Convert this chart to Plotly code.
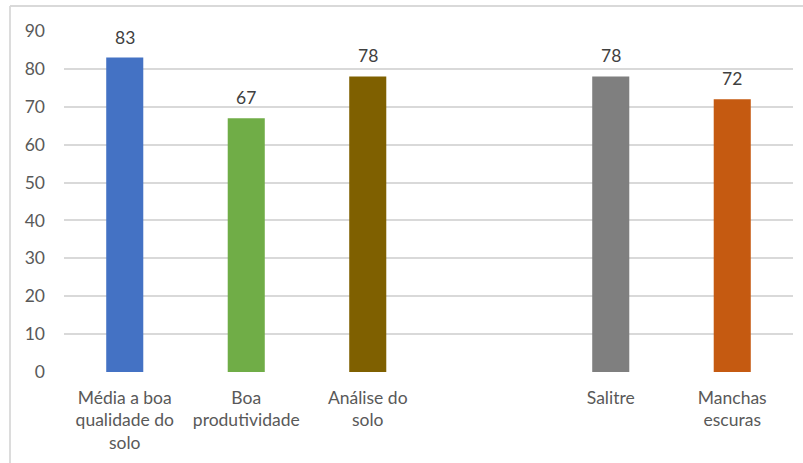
import plotly.graph_objects as go

categories = ["Média a boa<br>qualidade do<br>solo", "Boa<br>produtividade", "Análise do<br>solo", "", "Salitre", "Manchas<br>escuras"]
values = [83, 67, 78, None, 78, 72]
colors = ["#4472C4", "#70AD47", "#7F6000", "#FFFFFF", "#7F7F7F", "#C55A11"]
y_ticks = [0, 10, 20, 30, 40, 50, 60, 70, 80, 90]

xs = list(range(len(categories)))
FONT = "Lato, Liberation Sans, sans-serif"
FS = 17.5

fig = go.Figure()
fig.add_trace(go.Bar(x=xs, y=values, marker=dict(color=colors, line=dict(width=0)),
                     width=0.305, hoverinfo="skip"))

for x, v in zip(xs, values):
    if v is None:
        continue
    fig.add_annotation(x=x, y=v, text=str(v), showarrow=False, yanchor="bottom",
                       yshift=8, font=dict(family=FONT, size=FS, color="#404040"))

# outer chart border (top and left)
L, R, T, B = 64, 10, 31, 91
pw, ph = 803 - L - R, 463 - T - B
fig.add_shape(type="line", xref="paper", yref="paper",
              x0=(10 - L) / pw, x1=(803 - L) / pw, y0=(ph + T - 6) / ph, y1=(ph + T - 6) / ph,
              line=dict(color="#D9D9D9", width=1.8))
fig.add_shape(type="line", xref="paper", yref="paper",
              x0=(10 - L) / pw, x1=(10 - L) / pw, y0=(ph + T - 6) / ph, y1=-(463 - T - ph) / ph,
              line=dict(color="#D9D9D9", width=1.8))

fig.update_layout(
    width=803, height=463,
    margin=dict(l=L, r=R, t=T, b=B),
    paper_bgcolor="white", plot_bgcolor="white",
    showlegend=False,
    font=dict(family=FONT, size=FS, color="#595959"),
    xaxis=dict(range=[-0.5, 5.5], tickvals=xs, ticktext=categories, showgrid=False,
               zeroline=False, showline=False, ticks="", ticklabelstandoff=13,
               tickfont=dict(family=FONT, size=FS, color="#595959"), fixedrange=True),
    yaxis=dict(range=[0, 90], tickvals=y_ticks, showgrid=True, gridcolor="#D9D9D9",
               gridwidth=1.8, zeroline=False, showline=False, ticks="",
               ticklabelstandoff=18,
               tickfont=dict(family=FONT, size=FS, color="#595959"), fixedrange=True),
)

fig.write_html("out.html")
